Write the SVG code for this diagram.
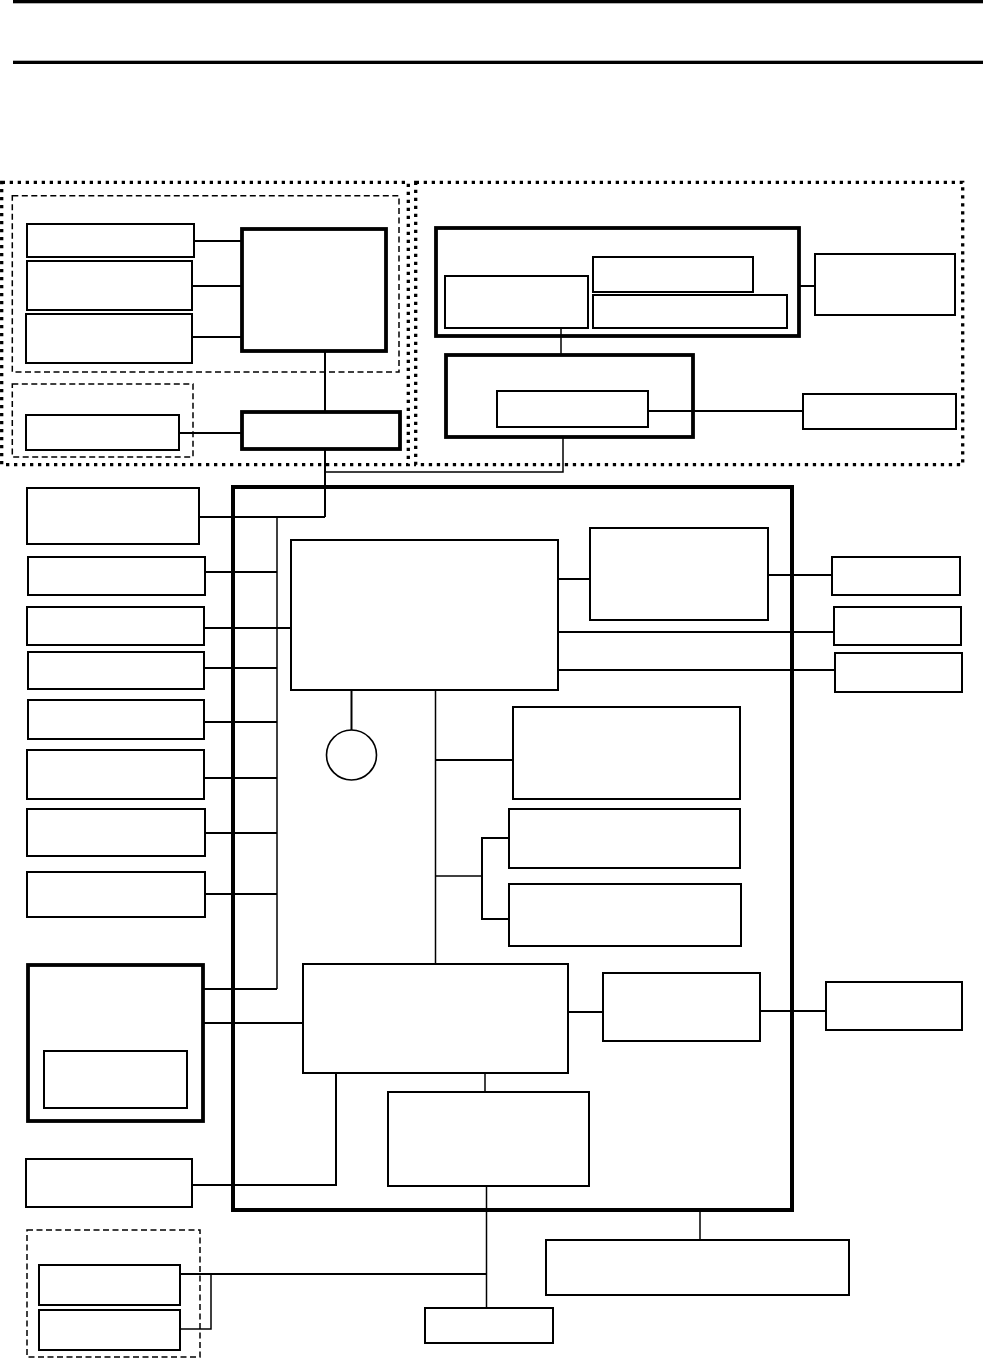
<svg xmlns="http://www.w3.org/2000/svg" width="983" height="1359" viewBox="0 0 983 1359">
<style>
.b{fill:#fff;stroke:#000;stroke-width:2}
.t{fill:none;stroke:#000;stroke-width:3.8}
.m{fill:none;stroke:#000;stroke-width:4}
.dot{fill:none;stroke:#000;stroke-width:3.3;stroke-dasharray:3.3 4.7}
.dash{fill:none;stroke:#000;stroke-width:1.5;stroke-dasharray:6 3.5}
.c path{fill:none;stroke:#000;stroke-width:2}
.c path.th{stroke-width:1.5}
</style>
<rect x="0" y="0" width="983" height="1359" fill="#fff"/>
<g id="header">
<rect x="13" y="0" width="970" height="3.3" fill="#000"/>
<rect x="13" y="60.7" width="970" height="3.3" fill="#000"/>
</g>
<g id="groups">
<rect class="dot" x="1.7" y="182.3" width="406.6" height="282.4"/>
<rect class="dot" x="415.7" y="182.3" width="547" height="282.4"/>
<rect class="dash" x="12.3" y="195.7" width="386.7" height="176.3"/>
<rect class="dash" x="12.3" y="384" width="180.7" height="73"/>
<rect class="dash" x="27" y="1230" width="173" height="127"/>
</g>
<g id="main"><rect class="m" x="233" y="487" width="559" height="723"/></g>
<g class="c" id="connectors">
<path d="M194 241H242"/>
<path d="M192 286H242"/>
<path d="M192 337H242"/>
<path d="M325 352V412"/>
<path d="M179 433H242"/>
<path d="M325 449V517"/>
<path d="M199 517H325"/>
<path class="th" d="M277 517V989"/>
<path class="th" d="M563 437V472H325"/>
<path class="th" d="M561 328V355"/>
<path d="M799 286H815"/>
<path d="M648 411H803"/>
<path d="M205 572H277"/>
<path d="M204 628H291"/>
<path d="M204 668H277"/>
<path d="M204 722H277"/>
<path d="M204 778H277"/>
<path d="M205 833H277"/>
<path d="M205 894H277"/>
<path d="M203 989H277"/>
<path d="M203 1023H303"/>
<path d="M558 579H590"/>
<path d="M768 575H832"/>
<path d="M558 632H834"/>
<path d="M558 670H835"/>
<path d="M351.5 690V730"/>
<path class="th" d="M435.5 690V964"/>
<path d="M435.5 760H513"/>
<path class="th" d="M435.5 876H482"/>
<path d="M509 838H482V919H509"/>
<path d="M568 1012H603"/>
<path d="M760 1011H826"/>
<path d="M192 1185H336V1073"/>
<path class="th" d="M485 1073V1092"/>
<path class="th" d="M486.5 1186V1308"/>
<path class="th" d="M700 1210V1240"/>
<path d="M180 1274H486.5"/>
<path class="th" d="M180 1329H211V1274"/>
</g>
<g id="A1"><rect class="b" x="27" y="224" width="167" height="33"/></g>
<g id="A2"><rect class="b" x="27" y="261" width="165" height="49"/></g>
<g id="A3"><rect class="b" x="26" y="314" width="166" height="49"/></g>
<g id="B"><rect class="t" x="242" y="229" width="144" height="122"/></g>
<g id="C"><rect class="t" x="242" y="412" width="158" height="37"/></g>
<g id="D"><rect class="b" x="26" y="415" width="153" height="35"/></g>
<g id="E"><rect class="t" x="436" y="228" width="363" height="108"/></g>
<g id="E1"><rect class="b" x="445" y="276" width="143" height="52"/></g>
<g id="E2"><rect class="b" x="593" y="257" width="160" height="35"/></g>
<g id="E3"><rect class="b" x="593" y="295" width="194" height="33"/></g>
<g id="F"><rect class="b" x="815" y="254" width="140" height="61"/></g>
<g id="G"><rect class="t" x="446" y="355" width="247" height="82"/></g>
<g id="G1"><rect class="b" x="497" y="391" width="151" height="36"/></g>
<g id="H"><rect class="b" x="803" y="394" width="153" height="35"/></g>
<g id="L1"><rect class="b" x="27" y="488" width="172" height="56"/></g>
<g id="L2"><rect class="b" x="28" y="557" width="177" height="38"/></g>
<g id="L3"><rect class="b" x="27" y="607" width="177" height="38"/></g>
<g id="L4"><rect class="b" x="28" y="652" width="176" height="37"/></g>
<g id="L5"><rect class="b" x="28" y="700" width="176" height="39"/></g>
<g id="L6"><rect class="b" x="27" y="750" width="177" height="49"/></g>
<g id="L7"><rect class="b" x="27" y="809" width="178" height="47"/></g>
<g id="L8"><rect class="b" x="27" y="872" width="178" height="45"/></g>
<g id="P"><rect class="b" x="291" y="540" width="267" height="150"/></g>
<g id="Q"><rect class="b" x="590" y="528" width="178" height="92"/></g>
<g id="R1"><rect class="b" x="832" y="557" width="128" height="38"/></g>
<g id="R2"><rect class="b" x="834" y="607" width="127" height="38"/></g>
<g id="R3"><rect class="b" x="835" y="653" width="127" height="39"/></g>
<g id="O"><circle cx="351.5" cy="755" r="25" fill="#fff" stroke="#000" stroke-width="1.6"/></g>
<g id="T1"><rect class="b" x="513" y="707" width="227" height="92"/></g>
<g id="T2"><rect class="b" x="509" y="809" width="231" height="59"/></g>
<g id="T3"><rect class="b" x="509" y="884" width="232" height="62"/></g>
<g id="S"><rect class="b" x="303" y="964" width="265" height="109"/></g>
<g id="K"><rect class="t" x="28" y="965" width="175" height="156"/></g>
<g id="K1"><rect class="b" x="44" y="1051" width="143" height="57"/></g>
<g id="U"><rect class="b" x="603" y="973" width="157" height="68"/></g>
<g id="V"><rect class="b" x="826" y="982" width="136" height="48"/></g>
<g id="W"><rect class="b" x="26" y="1159" width="166" height="48"/></g>
<g id="X"><rect class="b" x="388" y="1092" width="201" height="94"/></g>
<g id="Y"><rect class="b" x="425" y="1308" width="128" height="35"/></g>
<g id="Z"><rect class="b" x="546" y="1240" width="303" height="55"/></g>
<g id="N1"><rect class="b" x="39" y="1265" width="141" height="40"/></g>
<g id="N2"><rect class="b" x="39" y="1310" width="141" height="40"/></g>
</svg>
